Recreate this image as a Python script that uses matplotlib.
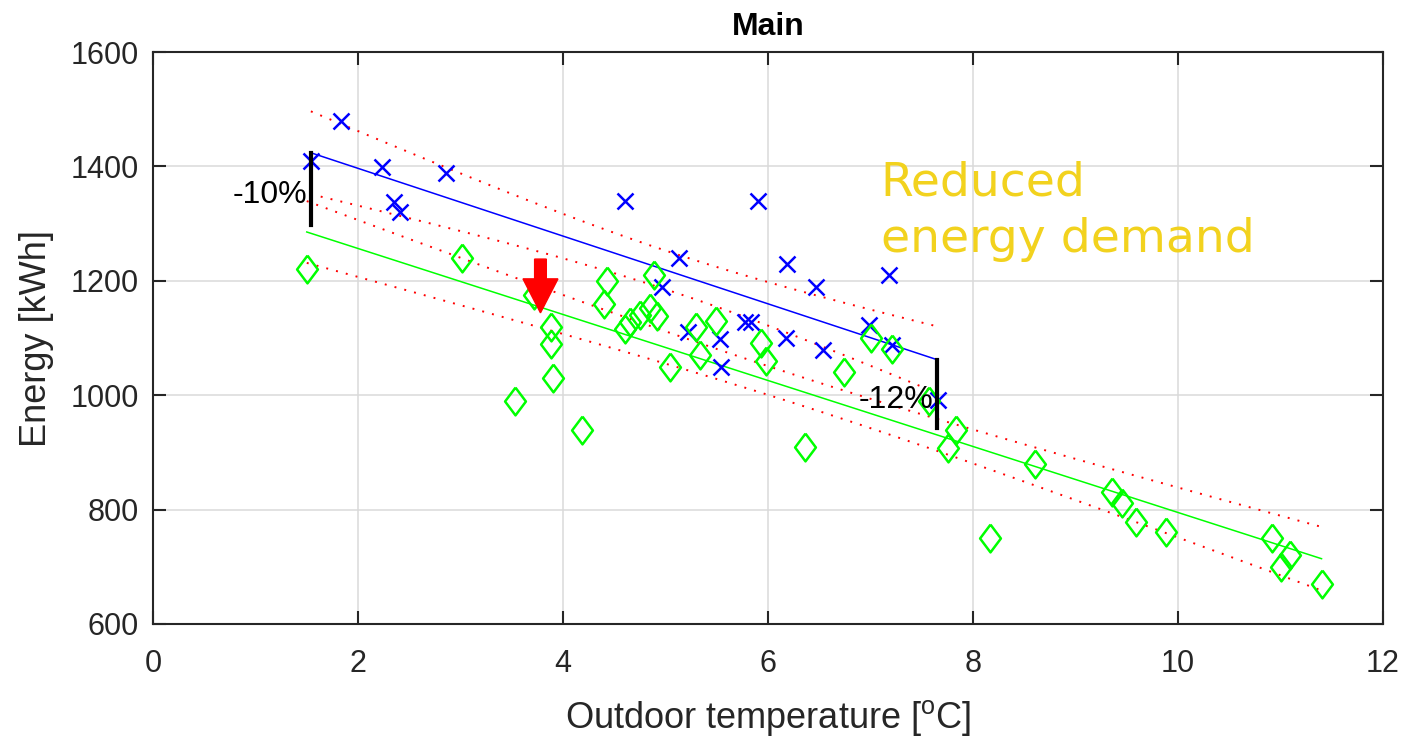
import numpy as np
import matplotlib
matplotlib.use("Agg")
import matplotlib.pyplot as plt

# ---------------- data ----------------
blue_x = [1.54, 1.83, 2.23, 2.35, 2.41, 2.86, 4.60, 4.97, 5.13, 5.22, 5.53, 5.54,
          5.78, 5.83, 5.90, 6.19, 6.18, 6.47, 6.54, 6.99, 7.18, 7.21, 7.66]
blue_y = [1409, 1479, 1399, 1338, 1320, 1389, 1340, 1190, 1240, 1111, 1098, 1049,
          1128, 1128, 1340, 1229, 1100, 1190, 1079, 1123, 1210, 1088, 992]

green_x = [1.50, 3.01, 3.53, 3.72, 3.88, 3.88, 3.90, 4.19, 4.43, 4.40, 4.60, 4.65,
           4.75, 4.85, 4.92, 4.89, 5.04, 5.30, 5.34, 5.49, 5.93, 5.98, 6.36, 6.74,
           7.00, 7.21, 7.57, 7.83, 7.76, 8.60, 8.17, 9.36, 9.45, 9.59, 9.88, 10.92,
           11.09, 11.00, 11.40]
green_y = [1220, 1240, 990, 1175, 1120, 1090, 1030, 940, 1200, 1160, 1115, 1128,
           1140, 1152, 1138, 1211, 1050, 1120, 1070, 1130, 1091, 1059, 910, 1040,
           1100, 1080, 990, 940, 908, 880, 750, 831, 811, 779, 760, 750,
           721, 700, 670]

# annotation bars (x, top, bottom) and labels
bar_x = [1.54, 7.65]
bar_top = [1424, 1062]
bar_bottom = [1298, 943]
bar_labels = ["-10%", "-12%"]
bar_label_y = [1350, 992]

arrow_x = 3.78
arrow_top = 1238
arrow_tip = 1144

x_ticks = [0, 2, 4, 6, 8, 10, 12]
y_ticks = [600, 800, 1000, 1200, 1400, 1600]

# t quantiles (95%, two-sided) for the regression confidence bands
t_blue = 2.080   # df = 21
t_green = 2.026  # df = 37

plt.rcParams['font.family'] = ['Liberation Sans', 'DejaVu Sans']
plt.rcParams['mathtext.default'] = 'regular'

fig = plt.figure(figsize=(14.22, 7.36), dpi=100)
ax = fig.add_axes([0.1076, 0.1522, 0.8650, 0.7771])


def fit_band(x, y, t):
    x = np.asarray(x, float)
    y = np.asarray(y, float)
    n = len(x)
    b, a = np.polyfit(x, y, 1)
    resid = y - (a + b * x)
    s = np.sqrt(np.sum(resid ** 2) / (n - 2))
    xm = x.mean()
    sxx = np.sum((x - xm) ** 2)
    xs = np.linspace(x.min(), x.max(), 200)
    yf = a + b * xs
    hw = t * s * np.sqrt(1.0 / n + (xs - xm) ** 2 / sxx)
    return xs, yf, yf - hw, yf + hw


dotted = (0, (1, 4.2))
for xs_, ys_, col, t in [(blue_x, blue_y, '#0000FF', t_blue),
                         (green_x, green_y, '#00FF00', t_green)]:
    xs, yf, lo, hi = fit_band(xs_, ys_, t)
    ax.plot(xs, yf, color=col, lw=1.1, zorder=3)
    ax.plot(xs, lo, color='#FF0000', lw=1.4, linestyle=dotted, zorder=3)
    ax.plot(xs, hi, color='#FF0000', lw=1.4, linestyle=dotted, zorder=3)

ax.plot(blue_x, blue_y, linestyle='none', marker='x', markersize=11,
        markeredgewidth=1.8, color='#0000FF', zorder=4)
diamond = [(0, 1), (0.75, 0), (0, -1), (-0.75, 0), (0, 1)]
ax.plot(green_x, green_y, linestyle='none', marker=diamond, markersize=20,
        markeredgewidth=1.8, markerfacecolor='none', markeredgecolor='#00FF00',
        zorder=4)

for bx, bt, bb, lab, ly in zip(bar_x, bar_top, bar_bottom, bar_labels, bar_label_y):
    ax.plot([bx, bx], [bt, bb], color='black', lw=3.0, zorder=5)
    ax.text(bx - 0.04, ly, lab, ha='right', va='center', fontsize=23,
            color='black', zorder=6)

ax.arrow(arrow_x, arrow_top, 0, arrow_tip - arrow_top, width=0.114,
         head_width=0.341, head_length=59.4, length_includes_head=True,
         color='#FF0000', zorder=7)

ax.text(7.10, 1350, "Reduced", fontsize=34, color='#F2D21E',
        family='DejaVu Sans', ha='left', va='baseline', zorder=6)
ax.text(7.10, 1251, "energy demand", fontsize=34, color='#F2D21E',
        family='DejaVu Sans', ha='left', va='baseline', zorder=6)

ax.set_xlim(0, 12)
ax.set_ylim(600, 1600)
ax.set_xticks(x_ticks)
ax.set_yticks(y_ticks)
ax.grid(True, color='#DADADA', lw=1.1)
ax.set_axisbelow(True)
for sp in ax.spines.values():
    sp.set_color('#262626')
    sp.set_linewidth(1.5)
ax.tick_params(direction='in', length=9.5, width=1.5, colors='#262626',
               labelsize=22, top=True, right=True, pad=10)
ax.tick_params(axis='x', pad=18)

ax.set_xlabel(r"Outdoor temperature [$^{o}$C]", fontsize=26, color='#262626',
              labelpad=14)
ax.set_ylabel("Energy [kWh]", fontsize=26, color='#262626', labelpad=12)
ax.set_title("Main", fontsize=23, fontweight='bold', pad=12)

fig.savefig("out.png", dpi=100)
